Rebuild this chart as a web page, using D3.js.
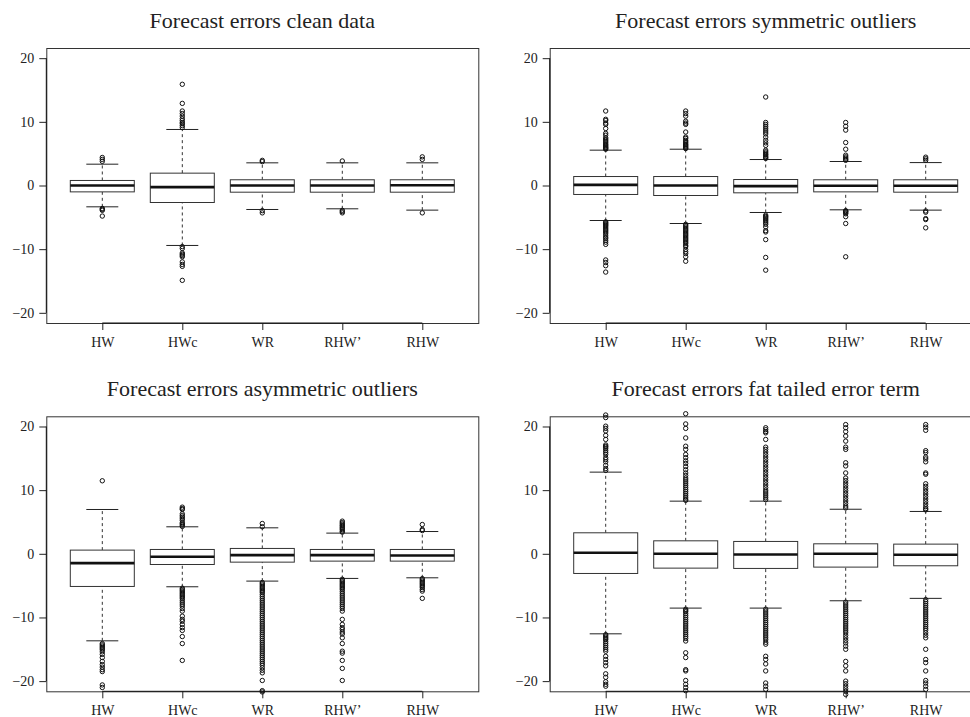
<!DOCTYPE html>
<meta charset="utf-8">
<style>
body { margin: 0; background: #fff; }
svg { display: block; }
text { font-family: "Liberation Serif", "DejaVu Serif", serif; fill: #222; }
.axis .domain { display: none; }
.axis line { stroke: #222; }
</style>
<svg width="970" height="717"></svg>
<script src="https://d3js.org/d3.v7.min.js"></script>
<script>

var methods = ["HW", "HWc", "WR", "RHW\u2019", "RHW"];
var titles = ["Forecast errors clean data", "Forecast errors symmetric outliers",
              "Forecast errors asymmetric outliers", "Forecast errors fat tailed error term"];
var yTicks = [-20, -10, 0, 10, 20];

// box stats per method: [lower whisker, q1, median, q3, upper whisker]
var cleanStats = [
  [-3.35, -1.0, 0.0, 0.79, 3.35],
  [-9.42, -2.67, -0.26, 1.94, 8.8],
  [-3.77, -1.05, 0.0, 0.9, 3.56],
  [-3.66, -1.05, 0.0, 0.9, 3.56],
  [-3.87, -1.05, 0.05, 0.9, 3.56]
];
var cleanOut = [
  [4.4, 4.1, 3.8, -3.6, -3.75, -3.9, -4.8],
  [15.9, 12.9, 11.7, 11.3, 10.9, 10.5, 10.2, 9.9, 9.7, 9.4, 9.1, -9.6, -9.9, -10.6, -10.8, -11.0, -11.2, -12.0, -12.4, -12.7, -14.9],
  [3.95, 3.75, -3.95, -4.3],
  [3.85, -3.9, -4.1, -4.3],
  [4.5, 4.1, -4.3]
];

var symStats = [
  [-5.5, -1.41, 0.1, 1.41, 5.55],
  [-5.97, -1.57, 0.0, 1.41, 5.7],
  [-4.24, -1.15, -0.1, 0.94, 4.08],
  [-3.82, -1.0, -0.05, 0.9, 3.77],
  [-3.87, -1.05, -0.05, 0.9, 3.6]
];
var symOut = [
  [11.7, 10.4, 10.2, 9.8, 9.6, 8.95, 8.2, 7.9, 7.5, 7.3, 7.1, 6.9, 6.7, 6.5, 6.35, 6.2, 6.05, 5.95, 5.8, 5.7,
   -5.7, -5.85, -6.0, -6.15, -6.3, -6.5, -6.7, -6.9, -7.1, -7.3, -7.5, -7.8, -8.1, -8.3, -8.6, -8.9, -9.25, -11.7, -12.1, -12.6, -13.6],
  [11.7, 11.3, 10.9, 10.1, 9.8, 9.6, 8.4, 7.6, 7.4, 7.1, 6.9, 6.7, 6.5, 6.35, 6.2, 6.05, 5.9, 5.8,
   -6.1, -6.3, -6.5, -6.7, -6.9, -7.1, -7.3, -7.5, -7.7, -7.9, -8.1, -8.3, -8.5, -8.7, -8.9, -9.1, -9.4, -9.6, -10.05, -10.4, -10.7, -11.2, -11.9],
  [13.9, 9.9, 9.6, 9.3, 9.0, 8.7, 8.4, 8.1, 7.6, 7.1, 6.7, 6.3, 5.55, 5.3, 5.1, 4.9, 4.76, 4.55, 4.4, 4.25,
   -4.66, -4.85, -5.0, -5.2, -5.4, -5.6, -5.86, -6.1, -6.5, -7.1, -7.3, -8.5, -11.3, -13.3],
  [9.9, 9.3, 8.7, 6.75, 5.7, 4.76, 4.5, 4.3, 4.1, 3.95, -3.95, -4.05, -4.15, -4.3, -4.45, -4.9, -5.97, -11.2],
  [4.45, 4.2, 3.95, -4.0, -4.2, -5.2, -5.35, -6.65]
];

var asymStats = [
  [-13.67, -5.13, -1.47, 0.58, 6.96],
  [-5.18, -1.68, -0.47, 0.68, 4.24],
  [-4.29, -1.31, -0.21, 0.84, 4.08],
  [-3.87, -1.15, -0.21, 0.68, 3.25],
  [-3.77, -1.15, -0.26, 0.68, 3.5]
];
var asymOut = [
  [11.47, -14.1, -14.3, -14.5, -14.7, -14.9, -15.1, -15.4, -15.8, -16.3, -16.9, -17.4, -17.8, -18.2, -18.5, -20.6, -21.0],
  [7.33, 7.1, 6.96, 6.28, 6.0, 5.76, 5.5, 5.24, 4.87, 4.7, 4.5, 4.3,
   -5.4, -5.6, -5.8, -6.0, -6.2, -6.4, -6.6, -6.8, -7.0, -7.3, -7.6, -7.9, -8.2, -8.6, -9.0, -9.8, -10.3, -10.6, -11.1, -11.6, -12.04, -13.0, -14.1, -16.75],
  [4.76, 4.25,
   -4.5, -4.7, -4.9, -5.1, -5.3, -5.5, -5.7, -5.9, -6.1, -6.4, -6.7, -7.0, -7.3, -7.6, -7.9, -8.2, -8.5, -8.8, -9.1, -9.4, -9.7,
   -10.0, -10.3, -10.6, -10.9, -11.2, -11.5, -11.8, -12.1, -12.4, -12.7, -13.0, -13.3, -13.6, -13.9, -14.2, -14.5, -14.8, -15.1,
   -15.4, -15.7, -16.0, -16.3, -16.6, -16.9, -17.2, -17.5, -17.9, -18.3, -18.7, -19.9, -21.5, -21.7],
  [5.13, 4.9, 4.7, 4.5, 4.35, 4.15, 3.98, 3.8, 3.56, 3.4,
   -4.0, -4.2, -4.4, -4.6, -4.8, -5.0, -5.2, -5.4, -5.6, -5.9, -6.2, -6.5, -6.8, -7.1, -7.4, -7.7, -8.0, -8.3, -8.6, -9.0,
   -10.3, -11.1, -11.6, -11.9, -12.3, -12.6, -13.2, -14.1, -15.3, -15.6, -16.75, -18.0, -19.9],
  [4.6, 3.82, 3.65, -3.9, -4.1, -4.3, -4.5, -4.7, -4.9, -5.1, -5.3, -5.6, -5.86, -7.0]
];

var fatStats = [
  [-12.57, -3.09, 0.16, 3.3, 12.83],
  [-8.53, -2.25, 0.0, 2.04, 8.27],
  [-8.53, -2.3, -0.1, 1.94, 8.27],
  [-7.38, -2.09, 0.0, 1.57, 7.0],
  [-7.0, -1.88, -0.16, 1.52, 6.65]
];
var fatOut = [
  [21.8, 21.4, 20.05, 19.7, 19.3, 18.6, 17.96, 17.1, 16.9, 16.75, 16.5, 16.2, 15.9, 15.6, 15.1, 14.8, 14.45, 13.9, 13.4, 13.1,
   -12.7, -12.9, -13.1, -13.3, -13.5, -13.8, -14.1, -14.4, -14.7, -15.0, -15.3, -16.1, -16.6, -17.1, -17.6, -18.85, -19.4, -20.1, -20.5, -20.8],
  [22.0, 20.4, 19.7, 18.2, 16.9, 16.4, 15.6, 15.1, 14.6, 14.2, 13.7, 13.2, 12.7, 12.3, 11.9, 11.6, 11.3, 11.0, 10.7, 10.4, 10.1, 9.8, 9.5, 9.2, 8.9, 8.6, 8.4,
   -8.7, -8.9, -9.1, -9.4, -9.7, -10.0, -10.3, -10.6, -10.9, -11.2, -11.5, -11.8, -12.1, -12.4, -12.7, -13.0, -13.3, -13.7,
   -15.55, -16.3, -18.2, -18.4, -19.9, -20.5, -21.0, -21.5],
  [19.8, 19.5, 19.2, 19.0, 17.96, 16.75, 16.4, 16.0, 15.6, 15.2, 14.8, 14.4, 14.0, 13.6, 13.2, 12.8, 12.4, 12.0, 11.6, 11.2, 10.8, 10.4, 10.0, 9.7, 9.4, 9.1, 8.8, 8.5,
   -8.7, -9.0, -9.3, -9.6, -9.9, -10.2, -10.5, -10.8, -11.1, -11.4, -11.7, -12.0, -12.3, -12.6, -12.9, -13.2, -13.5, -13.9, -14.2,
   -16.1, -16.6, -17.3, -18.4, -20.3, -20.8, -21.3],
  [20.3, 19.8, 19.2, 18.5, 17.7, 16.75, 16.4, 14.3, 13.8, 12.7, 11.9, 11.5, 11.1, 10.7, 10.3, 9.9, 9.5, 9.1, 8.7, 8.3, 7.9, 7.5, 7.2,
   -7.6, -7.9, -8.2, -8.5, -8.8, -9.1, -9.4, -9.7, -10.0, -10.3, -10.6, -10.9, -11.2, -11.5, -11.8, -12.1, -12.4, -12.8, -13.2, -13.6,
   -14.0, -14.5, -15.0, -16.9, -17.6, -18.4, -20.0, -20.4, -20.8, -21.2, -21.6, -22.1],
  [20.3, 19.9, 19.4, 16.2, 15.9, 15.2, 14.9, 14.45, 12.7, 12.5, 11.0, 10.6, 10.2, 9.8, 9.4, 9.0, 8.6, 8.2, 7.8, 7.4, 7.1, 6.9,
   -7.2, -7.5, -7.8, -8.1, -8.4, -8.7, -9.0, -9.3, -9.6, -9.9, -10.2, -10.5, -10.8, -11.1, -11.4, -11.7, -12.0, -12.4, -12.8, -13.2,
   -15.0, -16.6, -17.1, -18.4, -19.9, -20.3, -20.8, -21.3]
];

var panels = [
  {title: titles[0], stats: cleanStats, out: cleanOut},
  {title: titles[1], stats: symStats, out: symOut},
  {title: titles[2], stats: asymStats, out: asymOut},
  {title: titles[3], stats: fatStats, out: fatOut}
];

var svg = d3.select("svg"),
    colLeft = [46.3, 549.7],
    rowTop = [48, 416.3],
    plotW = 432,
    plotH = 275;

panels.forEach(function(p, k) {
  var left = colLeft[k % 2], top = rowTop[Math.floor(k / 2)];
  var g = svg.append("g").attr("transform", "translate(" + left + "," + top + ")");

  // R style: x from 0.3 to 5.7, y range padded a bit beyond +-20
  var x = d3.scaleLinear().domain([0.3, 5.7]).range([0, plotW]);
  var y = d3.scaleLinear().domain([-21.6, 21.6]).range([plotH, 0]);
  var bw = 0.8 * (x(2) - x(1)), cap = bw / 2;

  g.append("rect")
      .attr("x", 0.5).attr("y", 0.5)
      .attr("width", plotW).attr("height", plotH)
      .attr("fill", "none").attr("stroke", "#333");

  var box = g.selectAll(".box")
    .data(p.stats)
    .enter().append("g")
      .attr("class", "box")
      .attr("transform", function(d, i) { return "translate(" + x(i + 1) + ",0)"; });

  // whiskers
  box.append("line")
      .attr("y1", function(d) { return y(d[0]); })
      .attr("y2", function(d) { return y(d[1]); })
      .attr("stroke", "#333").attr("stroke-dasharray", "3,3");
  box.append("line")
      .attr("y1", function(d) { return y(d[3]); })
      .attr("y2", function(d) { return y(d[4]); })
      .attr("stroke", "#333").attr("stroke-dasharray", "3,3");

  // staples
  [0, 4].forEach(function(j) {
    box.append("line")
        .attr("x1", -cap / 2).attr("x2", cap / 2)
        .attr("y1", function(d) { return y(d[j]); })
        .attr("y2", function(d) { return y(d[j]); })
        .attr("stroke", "#222");
  });

  box.append("rect")
      .attr("x", -bw / 2)
      .attr("width", bw)
      .attr("y", function(d) { return y(d[3]); })
      .attr("height", function(d) { return y(d[1]) - y(d[3]); })
      .attr("fill", "#fff").attr("stroke", "#333");

  box.append("line")
      .attr("x1", -bw / 2).attr("x2", bw / 2)
      .attr("y1", function(d) { return y(d[2]); })
      .attr("y2", function(d) { return y(d[2]); })
      .attr("stroke", "#111").attr("stroke-width", 2.6);

  // outliers
  box.selectAll("circle")
    .data(function(d, i) { return p.out[i]; })
    .enter().append("circle")
      .attr("cy", function(v) { return y(v); })
      .attr("r", 2.2)
      .attr("fill", "none").attr("stroke", "#111").attr("stroke-width", 1);

  // axes
  g.append("g")
      .attr("class", "axis")
      .call(d3.axisLeft(y).tickValues(yTicks).tickSize(7).tickPadding(5))
      .selectAll("text").attr("font-size", 14).attr("font-family", "Liberation Serif").attr("fill", "#222");
  g.append("line")
      .attr("x1", 0).attr("x2", 0)
      .attr("y1", y(-20)).attr("y2", y(20))
      .attr("stroke", "#111");

  g.append("g")
      .attr("class", "axis")
      .attr("transform", "translate(0," + plotH + ")")
      .call(d3.axisBottom(x).tickValues([1, 2, 3, 4, 5]).tickSize(7).tickPadding(7)
            .tickFormat(function(d) { return methods[d - 1]; }))
      .selectAll("text").attr("font-size", 14).attr("font-family", "Liberation Serif").attr("fill", "#222");
  g.append("line")
      .attr("x1", x(1)).attr("x2", x(5))
      .attr("y1", plotH).attr("y2", plotH)
      .attr("stroke", "#111");

  g.append("text")
      .attr("x", plotW / 2)
      .attr("y", -20)
      .attr("text-anchor", "middle")
      .attr("font-size", 22)
      .text(p.title);
});

</script>
